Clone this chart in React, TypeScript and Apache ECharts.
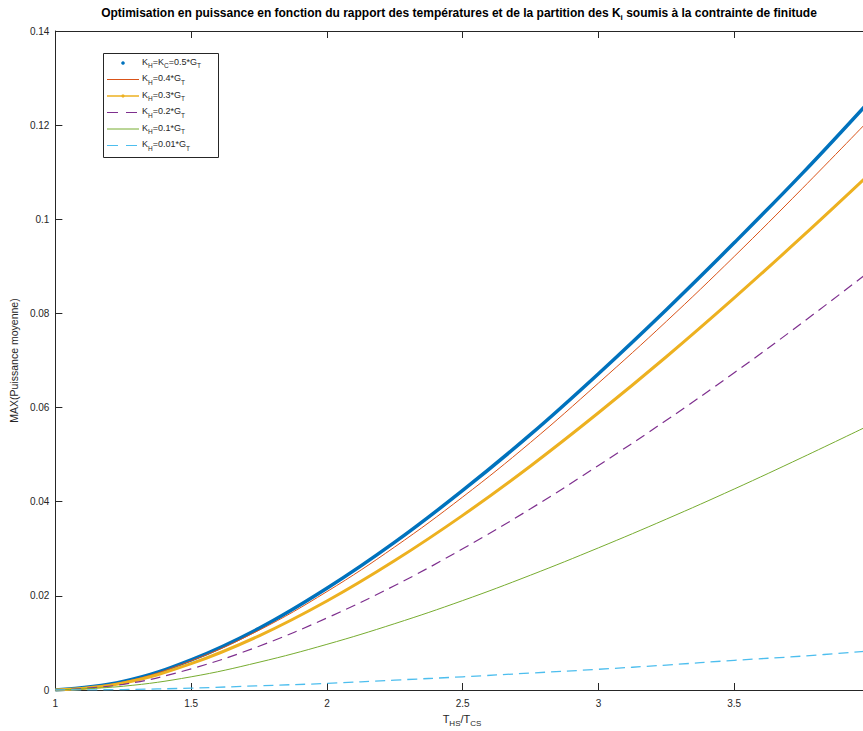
import React, { useEffect, useRef } from "react";
import * as echarts from "echarts";

const xValues = [1, 1.25, 1.5, 1.75, 2, 2.25, 2.5, 2.75, 3, 3.25, 3.5, 3.75, 4];
const kh05 = [0, 0.0018, 0.0064, 0.0131, 0.0216, 0.0314, 0.0424, 0.0543, 0.0672, 0.0808, 0.095, 0.1097, 0.1252];
const kh04 = [0, 0.0017, 0.0062, 0.0127, 0.0209, 0.0304, 0.041, 0.0526, 0.0652, 0.0783, 0.0921, 0.1065, 0.1213];
const kh03 = [0, 0.0015, 0.0056, 0.0115, 0.0189, 0.0275, 0.0371, 0.0476, 0.0589, 0.0708, 0.0833, 0.0963, 0.1097];
const kh02 = [0, 0.0012, 0.0045, 0.0093, 0.0153, 0.0222, 0.03, 0.0385, 0.0477, 0.0573, 0.0674, 0.078, 0.089];
const kh01 = [0, 0.0008, 0.0028, 0.0059, 0.0097, 0.0141, 0.019, 0.0244, 0.0302, 0.0363, 0.0427, 0.0494, 0.0563];
const kh001 = [0, 0.0001, 0.0004, 0.0009, 0.0014, 0.0021, 0.0028, 0.0036, 0.0044, 0.0053, 0.0063, 0.0072, 0.0083];

const seriesNames = ["KH=KC=0.5*GT", "KH=0.4*GT", "KH=0.3*GT", "KH=0.2*GT", "KH=0.1*GT", "KH=0.01*GT"];
const legendRich = [
  "{m|K}{s|H}{m|=K}{s|C}{m|=0.5*G}{s|T}",
  "{m|K}{s|H}{m|=0.4*G}{s|T}",
  "{m|K}{s|H}{m|=0.3*G}{s|T}",
  "{m|K}{s|H}{m|=0.2*G}{s|T}",
  "{m|K}{s|H}{m|=0.1*G}{s|T}",
  "{m|K}{s|H}{m|=0.01*G}{s|T}",
];
const colors = ["#0072BD", "#D95319", "#EDB120", "#7E2F8E", "#77AC30", "#4DBEEE"];
const widths = [3.5, 1, 3, 1.2, 1, 1.3];
const dashed = [false, false, false, true, false, true];
const allSeries = [kh05, kh04, kh03, kh02, kh01, kh001];

const FONT = "'Liberation Sans', Arial, Helvetica, sans-serif";
const AX = "#262626";

export default function App() {
  const ref = useRef<HTMLDivElement>(null);
  useEffect(() => {
    if (!ref.current) return;
    const chart = echarts.init(ref.current, undefined, { renderer: "svg" });

    const richSub = {
      m: { fontSize: 9, fontFamily: FONT, fill: AX, color: AX, lineHeight: 12, verticalAlign: "top" },
      s: { fontSize: 6.5, fontFamily: FONT, fill: AX, color: AX, lineHeight: 5, verticalAlign: "bottom" },
    };

    const legendX = 103, legendY = 53;
    const rowYs = [63, 79.5, 96, 112.5, 129, 145.5];
    const legendEls: any[] = [
      {
        type: "rect",
        shape: { x: legendX + 0.5, y: legendY + 0.5, width: 115, height: 104 },
        style: { fill: "#fff", stroke: AX, lineWidth: 1 },
        z: 100,
      },
    ];
    rowYs.forEach((ry, i) => {
      if (i === 0) {
        legendEls.push({
          type: "circle",
          shape: { cx: 123, cy: ry, r: 1.8 },
          style: { fill: colors[i] },
          z: 101,
        });
      } else {
        legendEls.push({
          type: "line",
          shape: { x1: 107, y1: ry, x2: 139, y2: ry },
          style: {
            stroke: colors[i],
            lineWidth: i === 2 ? 1.5 : 1,
            lineDash: dashed[i] ? [11, 8] : null,
          },
          z: 101,
        });
        if (i === 2) {
          legendEls.push({
            type: "circle",
            shape: { cx: 123, cy: ry, r: 1.6 },
            style: { fill: colors[i] },
            z: 102,
          });
        }
      }
      legendEls.push({
        type: "text",
        x: 142,
        y: ry - 6,
        style: { text: legendRich[i], rich: richSub, fill: AX },
        z: 101,
      });
    });

    const option: any = {
      animation: false,
      backgroundColor: "#fff",
      grid: { left: 54, top: 31, right: 1, bottom: 41, containLabel: false },
      xAxis: [
        {
          type: "value",
          min: 1,
          max: 4,
          interval: 0.5,
          position: "bottom",
          axisLine: { onZero: false, lineStyle: { color: AX, width: 1 } },
          axisTick: { inside: true, length: 7, lineStyle: { color: AX } },
          axisLabel: { color: AX, fontSize: 10, fontFamily: FONT, margin: 8, showMaxLabel: false },
          splitLine: { show: false },
        },
        {
          type: "value",
          min: 1,
          max: 4,
          interval: 0.5,
          position: "top",
          axisLine: { onZero: false, lineStyle: { color: AX, width: 1 } },
          axisTick: { inside: true, length: 7, lineStyle: { color: AX } },
          axisLabel: { show: false },
          splitLine: { show: false },
        },
      ],
      yAxis: [
        {
          type: "value",
          min: 0,
          max: 0.14,
          interval: 0.02,
          position: "left",
          name: "MAX(Puissance moyenne)",
          nameLocation: "middle",
          nameGap: 34,
          nameTextStyle: { color: AX, fontSize: 10.5, fontFamily: FONT },
          axisLine: { onZero: false, lineStyle: { color: AX, width: 1 } },
          axisTick: { inside: true, length: 7, lineStyle: { color: AX } },
          axisLabel: {
            color: AX,
            fontSize: 10,
            fontFamily: FONT,
            margin: 6,
            formatter: (v: number) => String(+v.toFixed(2)),
          },
          splitLine: { show: false },
        },
        {
          type: "value",
          min: 0,
          max: 0.14,
          interval: 0.02,
          position: "right",
          axisLine: { onZero: false, lineStyle: { color: AX, width: 1 } },
          axisTick: { inside: true, length: 7, lineStyle: { color: AX } },
          axisLabel: { show: false },
          splitLine: { show: false },
        },
      ],
      series: allSeries.map((vals, i) => ({
        name: seriesNames[i],
        type: "line",
        xAxisIndex: 0,
        yAxisIndex: 0,
        data: xValues.map((x, j) => [x, vals[j]]),
        smooth: 0.4,
        showSymbol: false,
        symbol: "none",
        lineStyle: {
          color: colors[i],
          width: widths[i],
          type: dashed[i] ? [10, 6] : "solid",
        },
        z: 2 + i,
      })),
      graphic: [
        {
          type: "text",
          x: 459,
          y: 14,
          style: {
            text:
              "{b|Optimisation en puissance en fonction du rapport des températures et de la partition des K}{bs|i}{b| soumis à la contrainte de finitude}",
            rich: {
              b: { fontSize: 12, fontWeight: "bold", fontFamily: FONT, fill: "#000", color: "#000", lineHeight: 14, verticalAlign: "top" },
              bs: { fontSize: 8, fontWeight: "bold", fontFamily: FONT, fill: "#000", color: "#000", lineHeight: 5, verticalAlign: "bottom" },
            },
            align: "center",
            verticalAlign: "middle",
          },
        },
        {
          type: "text",
          x: 462,
          y: 720,
          style: {
            text: "{m|T}{s|HS}{m|/T}{s|CS}",
            rich: {
              m: { fontSize: 11, fontFamily: FONT, fill: AX, color: AX, lineHeight: 14, verticalAlign: "top" },
              s: { fontSize: 8, fontFamily: FONT, fill: AX, color: AX, lineHeight: 5, verticalAlign: "bottom" },
            },
            align: "center",
            verticalAlign: "middle",
          },
        },
        ...legendEls,
      ],
    };
    chart.setOption(option);
    return () => chart.dispose();
  }, []);
  return (
    <div
      ref={ref}
      style={{ position: "fixed", left: 0, top: 0, width: 871, height: 731, background: "#fff" }}
    />
  );
}
